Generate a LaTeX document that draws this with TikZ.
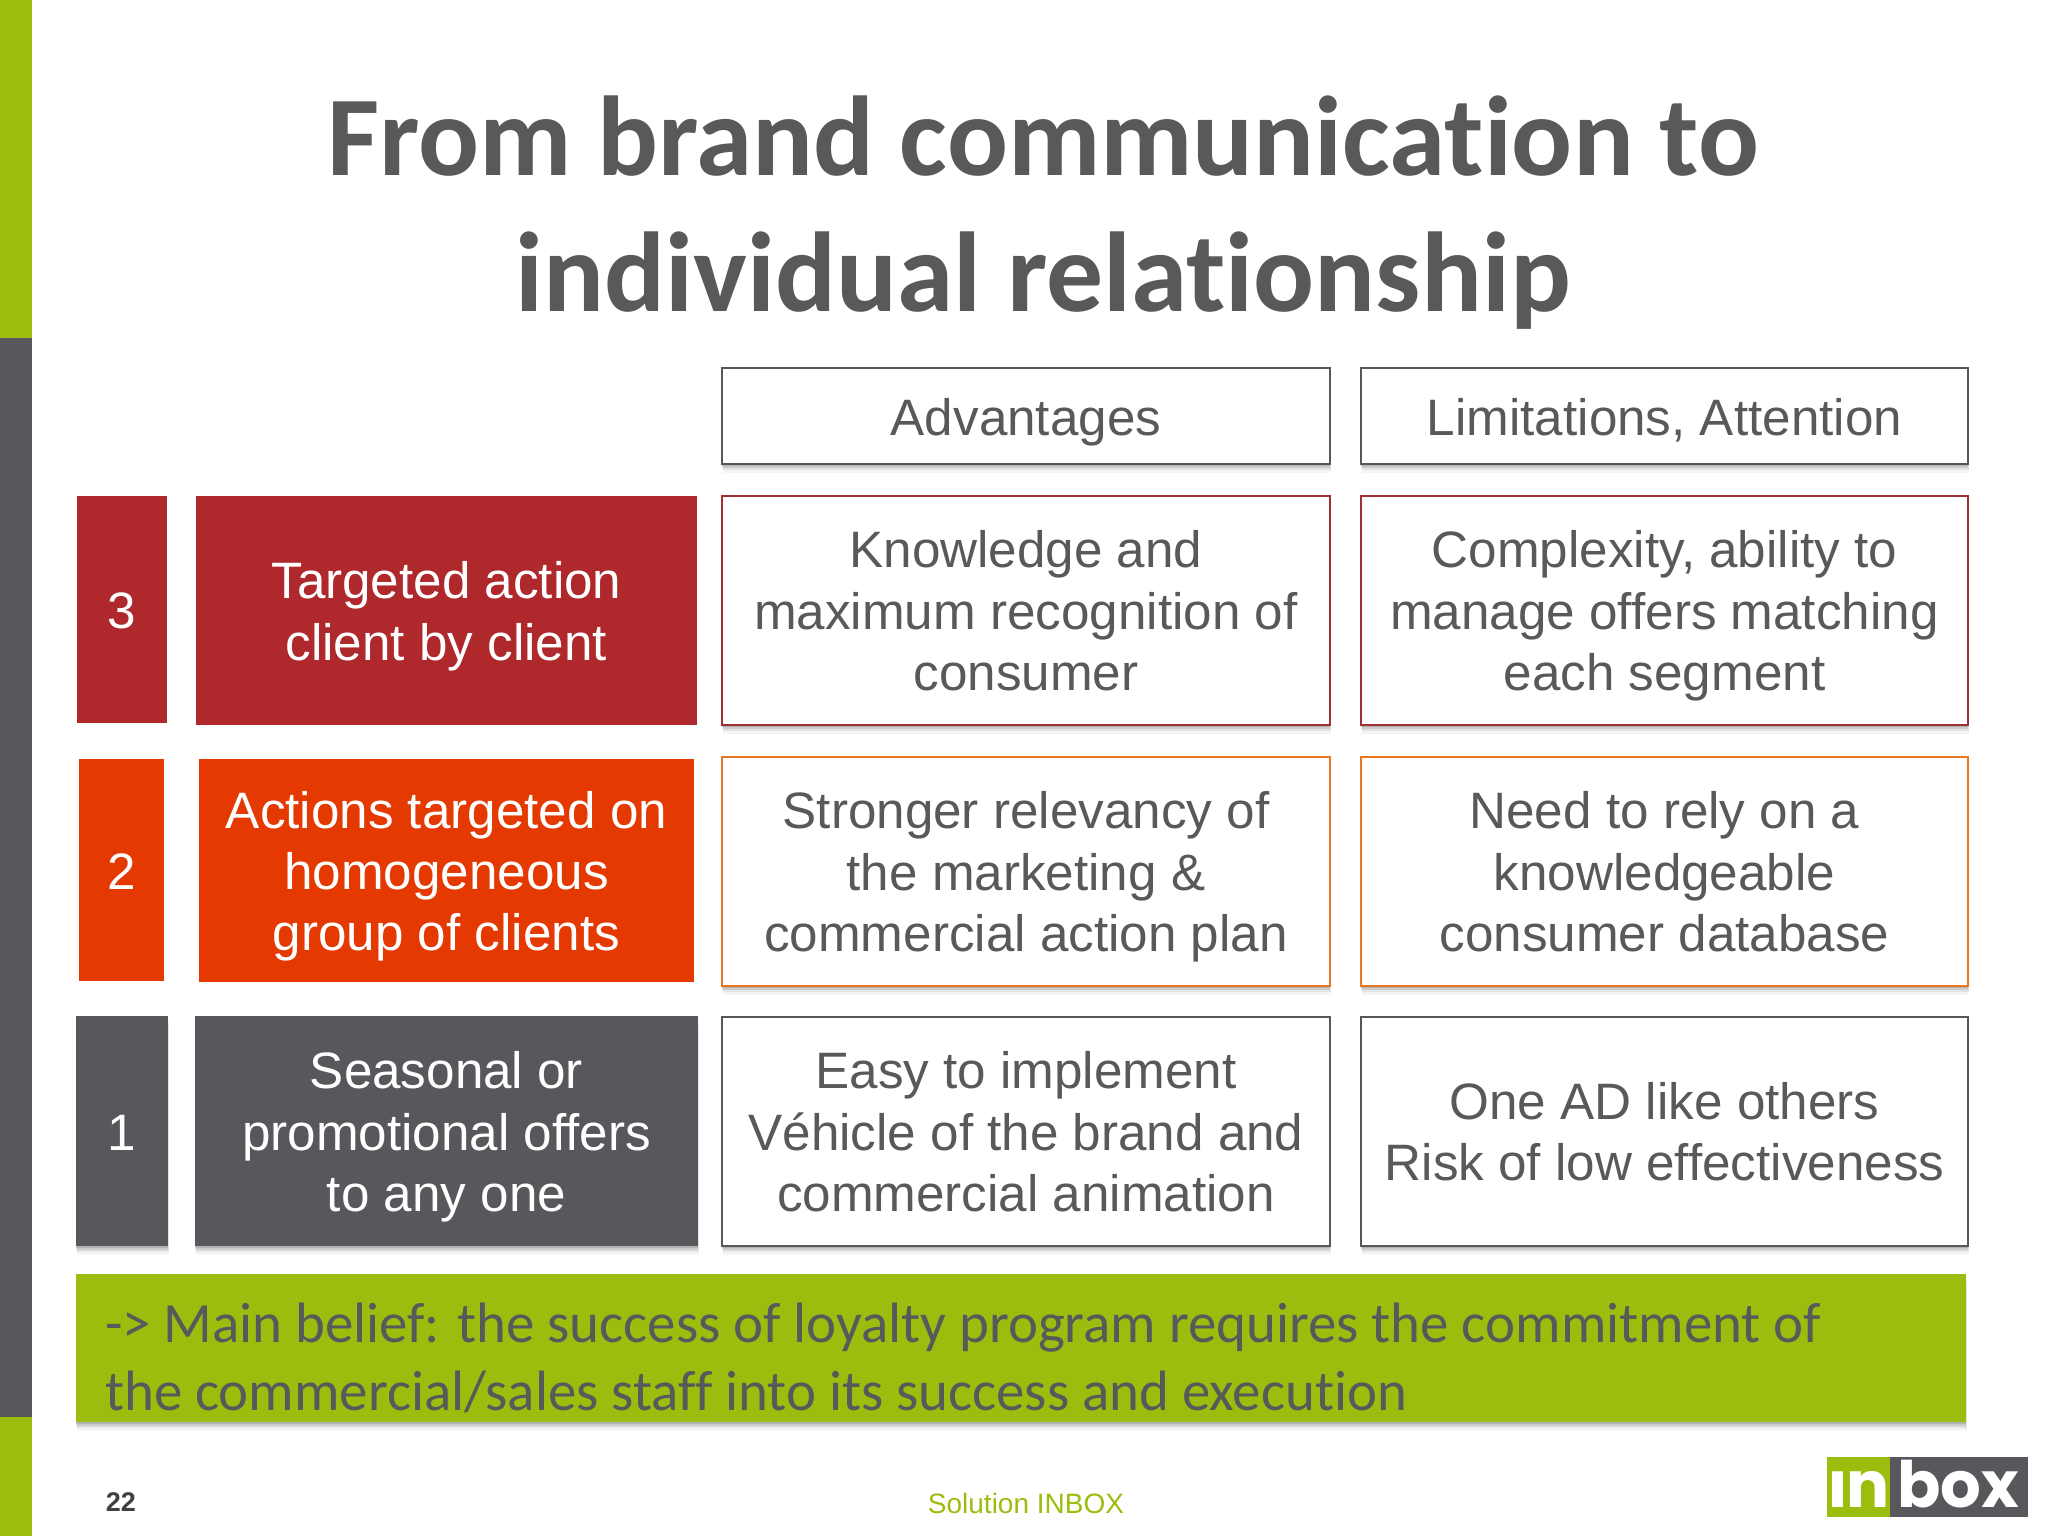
\documentclass[tikz,border=0pt]{standalone}
\usepackage{fontspec}
\setmainfont{Liberation Sans}
\newfontfamily\carlito[Ligatures=NoCommon]{Carlito}
\newfontfamily\popp{Poppins}
\usetikzlibrary{shadows}
\definecolor{igreen}{HTML}{9BBE0E}
\definecolor{idark}{HTML}{58575B}
\definecolor{ired}{HTML}{AE282C}
\definecolor{rline}{HTML}{9E2F33}
\definecolor{iorange}{HTML}{E43A02}
\definecolor{bline}{HTML}{E87722}
\definecolor{ititle}{HTML}{58595B}
\newcommand\tp{\rule{0pt}{54pt}}
\tikzset{
  softshadow/.style={
    general shadow={shadow xshift=0pt,shadow yshift=-2pt,fill=black,opacity=.12},
    general shadow={shadow xshift=0pt,shadow yshift=-4pt,fill=black,opacity=.10},
    general shadow={shadow xshift=1pt,shadow yshift=-6pt,fill=black,opacity=.07},
    general shadow={shadow xshift=1pt,shadow yshift=-9pt,fill=black,opacity=.04}},
  bodytext/.style={font=\fontsize{51.2}{61.4}\selectfont,align=center,inner sep=0pt,
    execute at end node={\rule[-16pt]{0pt}{16pt}}},
  solidbox/.style={bodytext,text=white,fill=#1},
  outbox/.style={bodytext,text=ititle,draw=#1,line width=2pt,fill=white,softshadow},
}
\begin{document}
\begin{tikzpicture}[x=1pt,y=-1pt]
\useasboundingbox (0,0) rectangle (2048,1536);
\fill[white] (0,0) rectangle (2048,1536);
% left band
\fill[igreen] (0,0) rectangle (32,338);
\fill[idark] (0,338) rectangle (32,1417);
\fill[igreen] (0,1417) rectangle (32,1536);
% title
\node[font=\carlito\bfseries\fontsize{113.6}{136}\selectfont,text=ititle,align=center,inner sep=0pt] (title) at (1043,212.5)
  {From brand communication to\\individual relationship};
% headers
\node[outbox=idark,minimum width=608pt,minimum height=96pt] (hadv) at (1026,416) {\tp Advantages};
\node[outbox=idark,minimum width=607pt,minimum height=96pt] (hlim) at (1664.5,416) {\tp Limitations, Attention};
% row 3
\node[solidbox=ired,minimum width=90.5pt,minimum height=227.5pt] (n3) at (121.8,609.7) {\tp 3};
\node[solidbox=ired,minimum width=501pt,minimum height=229pt] (a3) at (446.4,610.3) {\tp Targeted action\\client by client};
\node[outbox=rline,minimum width=608pt,minimum height=229pt] (b3) at (1026,610) {\tp Knowledge and\\maximum recognition of\\consumer};
\node[outbox=rline,minimum width=607pt,minimum height=229pt] (c3) at (1664.5,610) {\tp Complexity, ability to\\manage offers matching\\each segment};
% row 2
\node[solidbox=iorange,minimum width=84.5pt,minimum height=222pt] (n2) at (121.6,870.2) {\tp 2};
\node[solidbox=iorange,minimum width=495pt,minimum height=223pt] (a2) at (446.5,870.5) {\tp Actions targeted on\\homogeneous\\group of clients};
\node[outbox=bline,minimum width=608pt,minimum height=229pt] (b2) at (1026,871) {\tp Stronger relevancy of\\the marketing \&\\commercial action plan};
\node[outbox=bline,minimum width=607pt,minimum height=229pt] (c2) at (1664.5,871) {\tp Need to rely on a\\knowledgeable\\consumer database};
% row 1
\node[solidbox=idark,softshadow,minimum width=92pt,minimum height=230pt] (n1) at (121.7,1131) {\tp 1};
\node[solidbox=idark,softshadow,minimum width=503pt,minimum height=230pt] (a1) at (446.5,1131) {\tp Seasonal or\\promotional offers\\to any one};
\node[outbox=idark,minimum width=608pt,minimum height=229pt] (b1) at (1026,1131) {\tp Easy to implement\\Véhicle of the brand and\\commercial animation};
\node[outbox=idark,minimum width=607pt,minimum height=229pt] (c1) at (1664.5,1131) {\tp One AD like others\\Risk of low effectiveness};
% belt
\node[fill=igreen,softshadow,minimum width=1890pt,minimum height=148pt,inner sep=0pt] (belt) at (1020.8,1348) {};
\node[font=\carlito\fontsize{56.9}{68}\selectfont,text=ititle,align=left,anchor=west,inner sep=0pt] (belttext) at (105,1357.5)
  {-> Main belief: the success of loyalty program requires the commitment of\\the commercial/sales staff into its success and execution};
% footer
\node[font=\bfseries\fontsize{27}{30}\selectfont,text=black!75,inner sep=0pt] (page) at (121,1502) {22};
\node[font=\fontsize{28}{30}\selectfont,text=igreen,inner sep=0pt] (foot) at (1026,1503) {Solution INBOX};
% logo
\fill[igreen] (1827,1457) rectangle (1890,1517);
\fill[idark] (1890,1457) rectangle (2028,1517);
\begin{scope}
\clip (1827,1471) rectangle (1890,1517);
\node[font=\popp\bfseries\fontsize{64}{64}\selectfont,text=white,inner sep=0pt,anchor=base] (login) at (1859,1507) {in};
\end{scope}
\node[font=\popp\bfseries\fontsize{64}{64}\selectfont,text=white,inner sep=0pt,anchor=base] (logbox) at (1958,1507) {box};
\end{tikzpicture}
\end{document}
